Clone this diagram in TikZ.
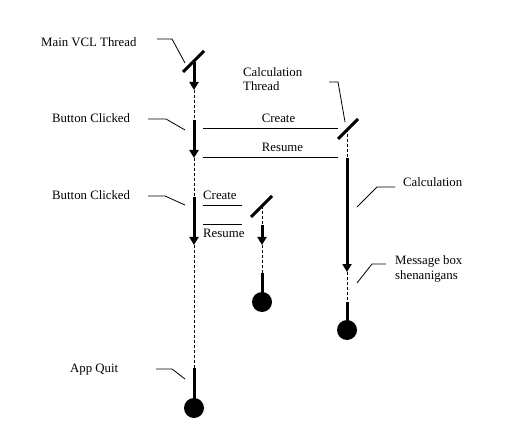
\documentclass[tikz,border=0pt]{standalone}
\usepackage{fontspec}
\setmainfont{Liberation Serif}
\usetikzlibrary{arrows.meta}
\begin{document}
\begin{tikzpicture}[x=1bp,y=-1bp,
  lbl/.style={anchor=base west,inner sep=0pt,font=\fontsize{12.8bp}{14bp}\selectfont},
  life/.style={line width=3bp},
  lifearrow/.style={line width=3bp,-{Triangle[width=9bp,length=8bp]}},
  idle/.style={line width=1bp,dash pattern=on 3bp off 2bp},
  slashline/.style={line width=3bp},
  msg/.style={line width=1bp},
  leader/.style={line width=0.8bp},
  endball/.style={fill=black,draw=none}]
\useasboundingbox[fill=white] (0,0) rectangle (513,448);

% ---------- labels ----------
\node[lbl] (tMain) at (41,47) {Main VCL Thread};
\node[lbl] (tBtn1) at (52,123) {Button Clicked};
\node[lbl] (tCalcT) at (243,77) {Calculation};
\node[lbl] (tCalcT2) at (243,91) {Thread};
\node[lbl,anchor=base] (tCreate1) at (278.5,123) {Create};
\node[lbl,anchor=base] (tResume1) at (282.5,152) {Resume};
\node[lbl] (tBtn2) at (52,200) {Button Clicked};
\node[lbl] (tCreate2) at (203,200) {Create};
\node[lbl] (tResume2) at (203,238) {Resume};
\node[lbl] (tCalc) at (403,187) {Calculation};
\node[lbl] (tMsg) at (395,264) {Message box};
\node[lbl] (tMsg2) at (395,279) {shenanigans};
\node[lbl] (tQuit) at (70,372) {App Quit};

% ---------- main thread (x=194) ----------
\coordinate (mS1) at (183,72);
\coordinate (mS2) at (204,51);
\coordinate (m0) at (194,62);
\coordinate (m1) at (194,90);
\coordinate (m2) at (194,120);
\coordinate (m3) at (194,158);
\coordinate (m4) at (194,197);
\coordinate (m5) at (194,245);
\coordinate (m6) at (194,368);
\node[endball,circle,minimum size=20bp,inner sep=0pt] (mEnd) at (194,408) {};
\draw[slashline] (mS1) -- (mS2);
\draw[lifearrow] (m0) -- (m1);
\draw[idle] (m1) -- (m2);
\draw[lifearrow] (m2) -- (m3);
\draw[idle] (m3) -- (m4);
\draw[lifearrow] (m4) -- (m5);
\draw[idle] (m5) -- (m6);
\draw[life] (m6) -- (mEnd.center);

% ---------- calculation thread (x=347) ----------
\coordinate (cS1) at (338,139);
\coordinate (cS2) at (358,119);
\coordinate (c0) at (347,129);
\coordinate (c1) at (347,158);
\coordinate (c2) at (347,272);
\coordinate (c3) at (347,302);
\node[endball,circle,minimum size=20bp,inner sep=0pt] (cEnd) at (347,330) {};
\draw[slashline] (cS1) -- (cS2);
\draw[idle] (c0) -- (c1);
\draw[lifearrow] (c1) -- (c2);
\draw[idle] (c2) -- (c3);
\draw[life] (c3) -- (cEnd.center);

% ---------- third thread (x=262) ----------
\coordinate (tS1) at (251,217);
\coordinate (tS2) at (272,196);
\coordinate (t0) at (262,206);
\coordinate (t1) at (262,225);
\coordinate (t2) at (262,245);
\coordinate (t3) at (262,273);
\node[endball,circle,minimum size=20bp,inner sep=0pt] (tEnd) at (262,302) {};
\draw[slashline] (tS1) -- (tS2);
\draw[idle] (t0) -- (t1);
\draw[lifearrow] (t1) -- (t2);
\draw[idle] (t2) -- (t3);
\draw[life] (t3) -- (tEnd.center);

% ---------- messages ----------
\coordinate (cr1a) at (203,129);
\coordinate (cr1b) at (338,129);
\coordinate (rs1a) at (203,158);
\coordinate (rs1b) at (338,158);
\coordinate (cr2a) at (203,206);
\coordinate (cr2b) at (242,206);
\coordinate (rs2a) at (203,225);
\coordinate (rs2b) at (242,225);
\draw[msg] (cr1a) -- (cr1b);
\draw[msg] (rs1a) -- (rs1b);
\draw[msg] (cr2a) -- (cr2b);
\draw[msg] (rs2a) -- (rs2b);

% ---------- leaders ----------
\coordinate (lMa) at (157,39); \coordinate (lMb) at (172,39); \coordinate (lMc) at (185,63);
\draw[leader] (lMa) -- (lMb) -- (lMc);
\coordinate (lB1a) at (148,119); \coordinate (lB1b) at (166,119); \coordinate (lB1c) at (185,130);
\draw[leader] (lB1a) -- (lB1b) -- (lB1c);
\coordinate (lCTa) at (329,82); \coordinate (lCTb) at (338,82); \coordinate (lCTc) at (345,122);
\draw[leader] (lCTa) -- (lCTb) -- (lCTc);
\coordinate (lB2a) at (148,196); \coordinate (lB2b) at (165,196); \coordinate (lB2c) at (185,205);
\draw[leader] (lB2a) -- (lB2b) -- (lB2c);
\coordinate (lCa) at (395,187); \coordinate (lCb) at (377,187); \coordinate (lCc) at (357,207);
\draw[leader] (lCa) -- (lCb) -- (lCc);
\coordinate (lMBa) at (386,264); \coordinate (lMBb) at (372,264); \coordinate (lMBc) at (357,283);
\draw[leader] (lMBa) -- (lMBb) -- (lMBc);
\coordinate (lQa) at (156,369); \coordinate (lQb) at (172,369); \coordinate (lQc) at (185,379);
\draw[leader] (lQa) -- (lQb) -- (lQc);
\end{tikzpicture}
\end{document}
